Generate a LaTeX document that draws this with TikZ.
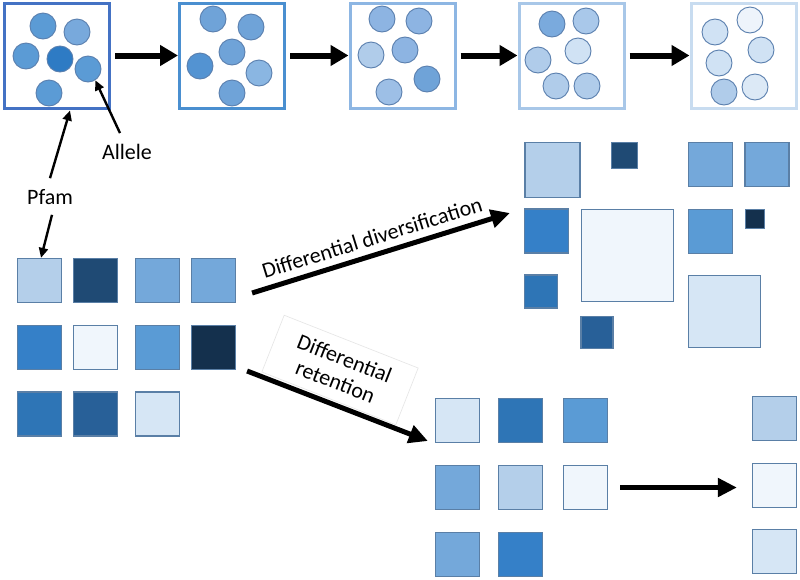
\documentclass[tikz,border=0pt]{standalone}
\usepackage{fontspec}
\setmainfont{Carlito}
\usetikzlibrary{arrows.meta}
\definecolor{pale}{HTML}{F0F6FC}
\definecolor{ltA}{HTML}{D6E6F5}
\definecolor{ltB}{HTML}{B4CFEA}
\definecolor{mdA}{HTML}{74A8DA}
\definecolor{mdB}{HTML}{5A9BD5}
\definecolor{mdC}{HTML}{3580C8}
\definecolor{dkA}{HTML}{2E75B6}
\definecolor{dkB}{HTML}{286098}
\definecolor{dkC}{HTML}{1F4A74}
\definecolor{dkD}{HTML}{14304D}
\definecolor{sqline}{HTML}{5A7FA6}
\definecolor{cline}{HTML}{5A7FAE}
\definecolor{fA}{HTML}{4472C4}
\definecolor{fB}{HTML}{4A8FD0}
\definecolor{fC}{HTML}{8DB6E3}
\definecolor{fD}{HTML}{A8C7E8}
\definecolor{fE}{HTML}{C8DCF0}
\definecolor{cA}{HTML}{5B9BD5}
\definecolor{cB}{HTML}{78A9DC}
\definecolor{cC}{HTML}{2E7BC4}
\definecolor{cD}{HTML}{6FA3D8}
\definecolor{cE}{HTML}{5393D2}
\definecolor{cF}{HTML}{8AB6E2}
\definecolor{cG}{HTML}{8DB4E2}
\definecolor{cH}{HTML}{B0CCEA}
\definecolor{cI}{HTML}{9DBFE6}
\definecolor{cJ}{HTML}{7AAADD}
\definecolor{cK}{HTML}{A9C8EA}
\definecolor{cL}{HTML}{D0E2F4}
\definecolor{cM}{HTML}{EEF4FB}
\definecolor{cN}{HTML}{DCE9F6}
\begin{document}
\begin{tikzpicture}[x=1pt,y=-1pt,
  frame/.style={draw, line width=3pt, minimum size=105pt, inner sep=0pt},
  allelec/.style={circle, draw=cline, line width=0.9pt, minimum size=26pt, inner sep=0pt},
  sq/.style={draw=sqline, line width=1.2pt, inner sep=0pt},
  bigarrow/.style={line width=6pt, -{Triangle[length=18pt,width=20pt]}},
  midarrow/.style={line width=5pt, -{Triangle[length=19pt,width=18pt]}},
  thinarrow/.style={line width=2.4pt, -{Triangle[length=10pt,width=9pt]}},
  lbl/.style={font=\fontsize{22}{25}\selectfont, inner sep=0pt}
]
\useasboundingbox[fill=white] (0,0) rectangle (800,579);

% top frames
\node[frame, draw=fA] (b1) at (57,55.5) {};
\node[frame, draw=fB] (b2) at (232,55.5) {};
\node[frame, draw=fC] (b3) at (402.5,55.5) {};
\node[frame, draw=fD] (b4) at (571.5,55.5) {};
\node[frame, draw=fE] (b5) at (743.5,55.5) {};

% circles box 1
\node[allelec, fill=cA] (c11) at (43,26) {};
\node[allelec, fill=cB] (c12) at (77,32) {};
\node[allelec, fill=cA] (c13) at (26,56) {};
\node[allelec, fill=cC] (c14) at (60,59) {};
\node[allelec, fill=cA] (c15) at (88,69) {};
\node[allelec, fill=cA] (c16) at (49,93) {};
% box 2
\node[allelec, fill=cD] (c21) at (213,19) {};
\node[allelec, fill=cD] (c22) at (251,27) {};
\node[allelec, fill=cD] (c23) at (232,52) {};
\node[allelec, fill=cE] (c24) at (200,66) {};
\node[allelec, fill=cF] (c25) at (259,73) {};
\node[allelec, fill=cD] (c26) at (232,93) {};
% box 3
\node[allelec, fill=cG] (c31) at (382,19) {};
\node[allelec, fill=cG] (c32) at (419,21) {};
\node[allelec, fill=cH] (c33) at (371,55) {};
\node[allelec, fill=cG] (c34) at (405,50) {};
\node[allelec, fill=cD] (c35) at (427,79) {};
\node[allelec, fill=cI] (c36) at (389,92) {};
% box 4
\node[allelec, fill=cJ] (c41) at (552,24) {};
\node[allelec, fill=cK] (c42) at (586,21) {};
\node[allelec, fill=cH] (c43) at (538,60) {};
\node[allelec, fill=cL] (c44) at (578,51) {};
\node[allelec, fill=cH] (c45) at (556,86) {};
\node[allelec, fill=cH] (c46) at (587,86) {};
% box 5
\node[allelec, fill=cM] (c51) at (750,20) {};
\node[allelec, fill=cL] (c52) at (715,32) {};
\node[allelec, fill=cL] (c53) at (761,50) {};
\node[allelec, fill=cL] (c54) at (719,63) {};
\node[allelec, fill=cH] (c55) at (724,92) {};
\node[allelec, fill=cN] (c56) at (755,87) {};

\draw[bigarrow, shorten <=4pt] (b1) -- (b2);
\draw[bigarrow, shorten <=4pt] (b2) -- (b3);
\draw[bigarrow, shorten <=4pt] (b3) -- (b4);
\draw[bigarrow, shorten <=4pt] (b4) -- (b5);

% left grid
\node[sq, fill=ltB, minimum size=44pt] (L11) at (39.5,280.5) {};
\node[sq, fill=dkC, minimum size=44pt] (L12) at (95.5,280.5) {};
\node[sq, fill=mdA, minimum size=44pt] (L13) at (157.5,280.5) {};
\node[sq, fill=mdA, minimum size=44pt] (L14) at (213.5,280.5) {};
\node[sq, fill=mdC, minimum size=44pt] (L21) at (39.5,347.5) {};
\node[sq, fill=pale, minimum size=44pt] (L22) at (95.5,347.5) {};
\node[sq, fill=mdB, minimum size=44pt] (L23) at (157.5,347.5) {};
\node[sq, fill=dkD, minimum size=44pt] (L24) at (213.5,347.5) {};
\node[sq, fill=dkA, minimum size=44pt] (L31) at (39.5,414) {};
\node[sq, fill=dkB, minimum size=44pt] (L32) at (95.5,414) {};
\node[sq, fill=ltA, minimum size=44pt] (L33) at (157.5,414) {};

% labels
\node[lbl] (allele) at (127,152) {Allele};
\node[lbl] (pfam) at (50,197) {Pfam};
\draw[thinarrow] ([xshift=-7pt,yshift=11pt]allele.north) -- (c15.-57);
\draw[thinarrow] ([yshift=11pt]pfam.north) -- ([xshift=13pt,yshift=-1pt]b1.south);
\draw[thinarrow] ([xshift=2pt,yshift=-10pt]pfam.south) -- ([xshift=1.5pt]L11.north);

% diversification grid
\node[sq, fill=ltB, minimum size=55pt] (DA) at (552.5,170) {};
\node[sq, fill=dkC, minimum size=26pt] (DB) at (624.5,155.5) {};
\node[sq, fill=mdA, minimum size=44pt] (DC) at (710.5,164.5) {};
\node[sq, fill=mdA, minimum size=44pt] (DD) at (767,164.5) {};
\node[sq, fill=mdC, minimum size=44pt] (DE) at (546.5,231) {};
\node[sq, fill=pale, minimum size=92pt] (DF) at (627.5,255.5) {};
\node[sq, fill=mdB, minimum size=44pt] (DG) at (710.5,231.5) {};
\node[sq, fill=dkD, minimum size=19pt] (DH) at (755,219) {};
\node[sq, fill=dkA, minimum size=33pt] (DI) at (541,291.5) {};
\node[sq, fill=dkB, minimum size=32pt] (DJ) at (597,332.5) {};
\node[sq, fill=ltA, minimum size=72pt] (DK) at (724.5,311.5) {};

% retention grid
\node[sq, fill=ltA, minimum size=44pt] (R11) at (457.5,420.5) {};
\node[sq, fill=dkA, minimum size=44pt] (R12) at (520.5,420.5) {};
\node[sq, fill=mdB, minimum size=44pt] (R13) at (585.5,420.5) {};
\node[sq, fill=mdA, minimum size=44pt] (R21) at (457.5,487.5) {};
\node[sq, fill=ltB, minimum size=44pt] (R22) at (520.5,487.5) {};
\node[sq, fill=pale, minimum size=44pt] (R23) at (585.5,487.5) {};
\node[sq, fill=mdA, minimum size=44pt] (R31) at (457.5,554.5) {};
\node[sq, fill=mdC, minimum size=44pt] (R32) at (520.5,554.5) {};
\node[sq, fill=ltB, minimum size=44pt] (Q1) at (774.5,418.5) {};
\node[sq, fill=pale, minimum size=44pt] (Q2) at (774.5,485.5) {};
\node[sq, fill=ltA, minimum size=44pt] (Q3) at (774.5,551.5) {};

\draw[midarrow, shorten <=12pt, shorten >=15pt] (R23.east) -- (R23.east -| Q2.west);

% diversification arrow
\draw[midarrow] ([xshift=16pt,yshift=-12.5pt]L14.east) -- ([xshift=-14pt,yshift=18pt]DE.west)
  node[lbl, pos=0.485, sloped, above=7pt] (divlbl) {Differential diversification};

% retention
\node[lbl, rotate=-21.5, draw=black!10, line width=0.6pt, align=center,
      minimum width=144pt, minimum height=61pt] (retlbl) at (340,370) {Differential\\retention};
\draw[midarrow] ([xshift=11pt,yshift=-23.5pt]L24.east) -- ([xshift=-7pt,yshift=-20.5pt]R11.west);
\end{tikzpicture}
\end{document}
